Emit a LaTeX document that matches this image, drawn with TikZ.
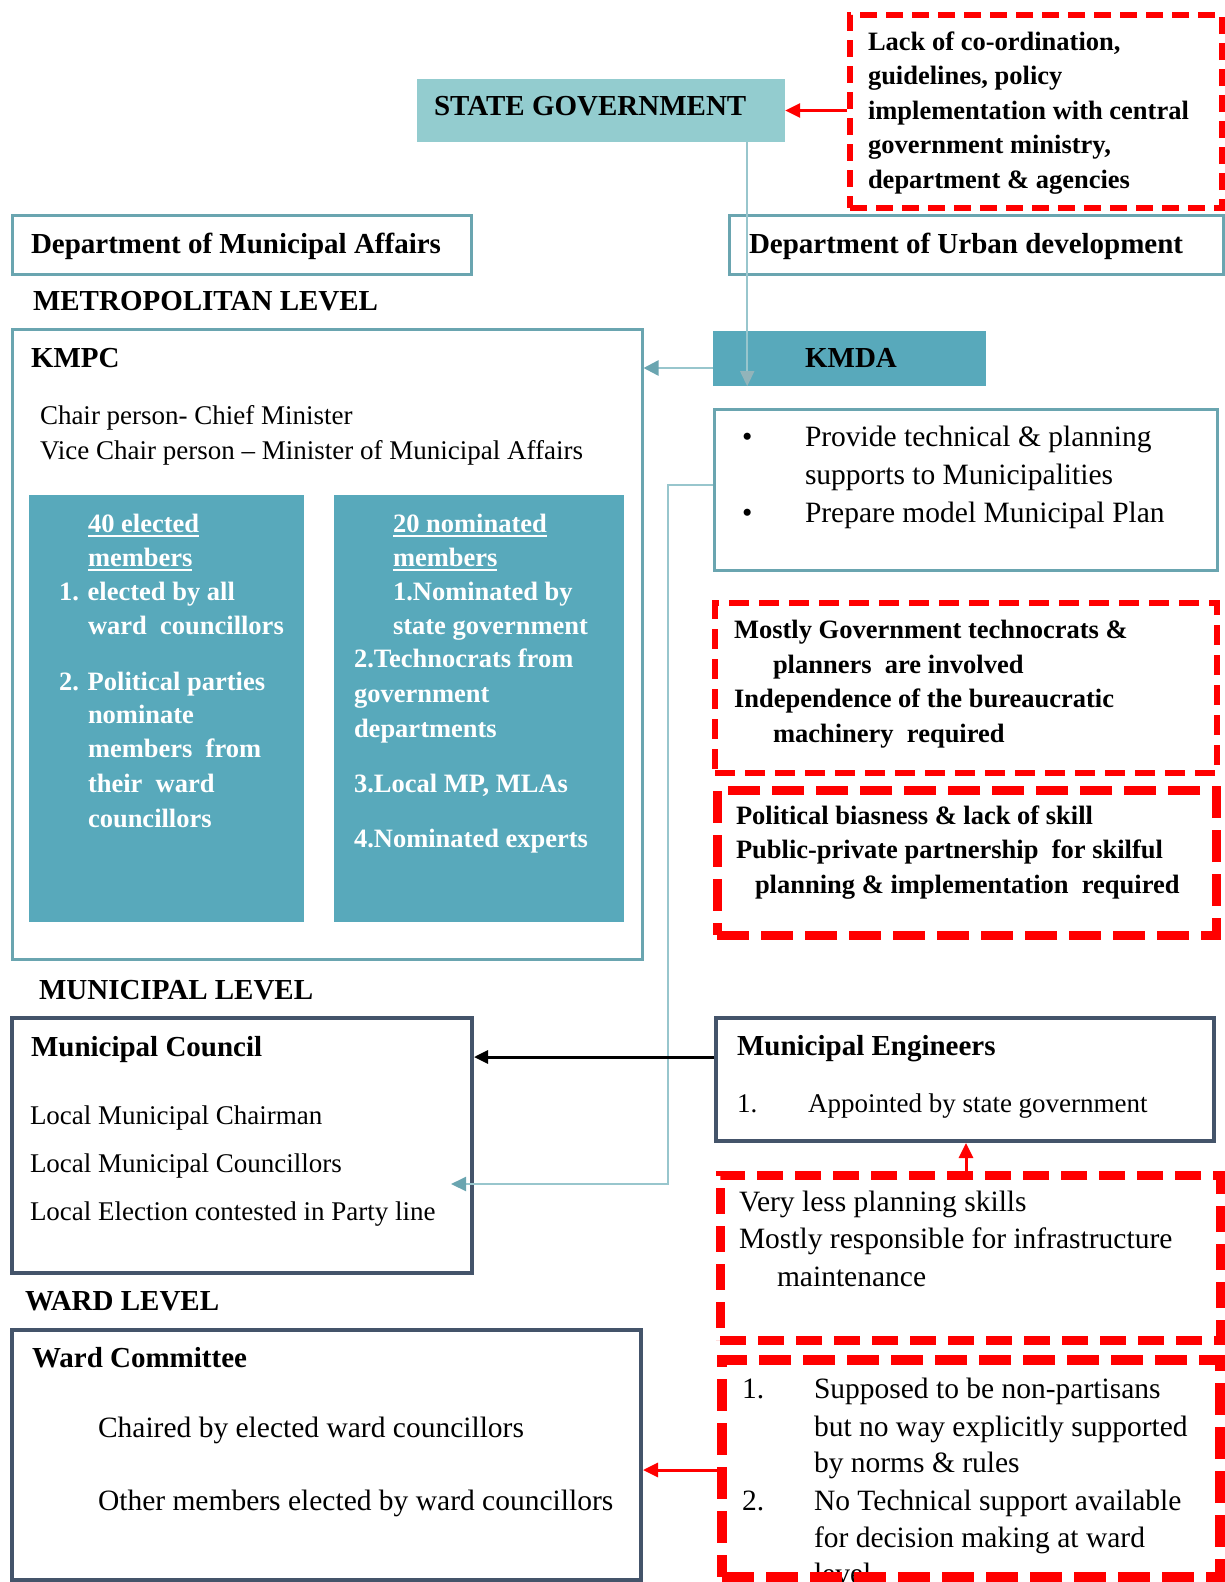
\documentclass[tikz,border=0pt]{standalone}
\usepackage{fontspec}
\setmainfont{Liberation Serif}
\usetikzlibrary{arrows.meta,fit}

\definecolor{tealfill}{HTML}{58A9BB}
\definecolor{paleteal}{HTML}{93CCCF}
\definecolor{tealedge}{HTML}{6AA5B0}
\definecolor{linkteal}{HTML}{98C6CD}
\definecolor{slateedge}{HTML}{44546A}
\definecolor{warnred}{HTML}{FF0000}

\newcommand\hdfont{\fontsize{29}{34}\selectfont\bfseries}
\newcommand\bdfont{\fontsize{26.5}{34}\selectfont\bfseries}
\newcommand\rgfont{\fontsize{27}{34}\selectfont}
\newcommand\rgbig{\fontsize{29.5}{36}\selectfont}
% underline with a rule that scales with the large type
\newcommand\undl[1]{\setbox0\hbox{#1}\rlap{\copy0}\rule[-5pt]{\wd0}{2pt}}

\tikzset{
  txt/.style={anchor=base west, inner sep=0pt, outer sep=0pt},
  hd/.style={txt, font=\hdfont},
  bd/.style={txt, font=\bdfont},
  bdw/.style={txt, font=\bdfont, text=white},
  rg/.style={txt, font=\rgfont},
  rgl/.style={txt, font=\rgbig},
  tealbox/.style={draw=tealedge, line width=3pt, inner sep=0pt},
  slatebox/.style={draw=slateedge, line width=4pt, inner sep=0pt},
  fillbox/.style={fill=tealfill, inner sep=0pt},
  warnbox/.style={draw=warnred, inner sep=0pt},
  redarrow/.style={draw=warnred, line width=3pt, -{Triangle[length=15pt,width=14pt]}},
  blackarrow/.style={draw=black, line width=3pt, -{Triangle[length=14pt,width=13pt]}},
  dropline/.style={draw=linkteal, line width=1.5pt, -{Triangle[length=15pt,width=14pt,color=linkteal!75!gray]}},
  sideline/.style={draw=linkteal, line width=2.5pt, -{Triangle[length=15pt,width=15pt,color=tealedge]}},
  linkline/.style={draw=linkteal, line width=2pt, -{Triangle[length=15pt,width=14pt,color=tealedge]}},
}

\begin{document}
\begin{tikzpicture}[x=1pt,y=-1pt]
\useasboundingbox (0,0) rectangle (1225,1582);

% ---------- state level ----------
\node[fill=paleteal, inner sep=0pt, fit={(417,79) (785,142)}] (sg) {};
\node[hd] (sgt) at (434,115) {STATE GOVERNMENT};

\node[warnbox, line width=5.5pt, dash pattern=on 17pt off 9pt, fit={(850,15) (1222,208)}] (w1) {};
\node[bd] (w1a) at (868,50) {Lack of co-ordination,};
\node[bd] (w1b) at (868,84.5) {guidelines, policy};
\node[bd] (w1c) at (868,119) {implementation with central};
\node[bd] (w1d) at (868,153.5) {government ministry,};
\node[bd] (w1e) at (868,188) {department \& agencies};

\node[tealbox, fit={(12,215) (471,274)}] (dma) {};
\node[hd] (dmat) at (31,253) {Department of Municipal Affairs};
\node[tealbox, fit={(729,215) (1223,274)}] (dud) {};
\node[hd] (dudt) at (749,253) {Department of Urban development};

% ---------- metropolitan level ----------
\node[hd] (metro) at (33,310) {METROPOLITAN LEVEL};

\node[tealbox, fit={(12,329) (642,959)}] (kmpc) {};
\node[hd] (kmpct) at (31,367) {KMPC};
\node[rg] (chair) at (40,424) {Chair person- Chief Minister};
\node[rg] (vice) at (40,459) {Vice Chair person – Minister of Municipal Affairs};

\node[fillbox, fit={(29,495) (304,922)}] (elect) {};
\node[bdw] (e1) at (88,532) {\undl{40 elected}};
\node[bdw] (e2) at (88,566) {\undl{members}};
\node[bdw] (e3) at (59,600) {1. elected by all};
\node[bdw] (e4) at (88,634) {ward \ councillors};
\node[bdw] (e5) at (59,690) {2. Political parties};
\node[bdw] (e6) at (88,723) {nominate};
\node[bdw] (e7) at (88,757) {members \ from};
\node[bdw] (e8) at (88,792) {their \ ward};
\node[bdw] (e9) at (88,827) {councillors};

\node[fillbox, fit={(334,495) (624,922)}] (nomin) {};
\node[bdw] (n1) at (393,532) {\undl{20 nominated}};
\node[bdw] (n2) at (393,566) {\undl{members}};
\node[bdw] (n3) at (393,600) {1.Nominated by};
\node[bdw] (n4) at (393,634) {state government};
\node[bdw] (n5) at (354,667) {2.Technocrats from};
\node[bdw] (n6) at (354,702) {government};
\node[bdw] (n7) at (354,737) {departments};
\node[bdw] (n8) at (354,792) {3.Local MP, MLAs};
\node[bdw] (n9) at (354,847) {4.Nominated experts};

\node[fillbox, fit={(713,331) (986,386)}] (kmda) {};
\node[hd, anchor=base] (kmdat) at (851,367) {KMDA};

\node[tealbox, fit={(714,409) (1217,570)}] (kb) {};
\node[rgl] (kb1) at (742,446) {•};
\node[rgl] (kb2) at (805,446) {Provide technical \& planning};
\node[rgl] (kb3) at (805,484) {supports to Municipalities};
\node[rgl] (kb4) at (742,522) {•};
\node[rgl] (kb5) at (805,522) {Prepare model Municipal Plan};

\node[warnbox, line width=6pt, dash pattern=on 20pt off 10pt, fit={(715,603) (1217,773)}] (w2) {};
\node[bd] (w2a) at (734,638) {Mostly Government technocrats \&};
\node[bd] (w2b) at (773,673) {planners \ are involved};
\node[bd] (w2c) at (734,707) {Independence of the bureaucratic};
\node[bd] (w2d) at (773,742) {machinery \ required};

\node[warnbox, line width=9pt, dash pattern=on 32pt off 12pt, fit={(717,790) (1216,935)}] (w3) {};
\node[bd] (w3a) at (736,824) {Political biasness \& lack of skill};
\node[bd] (w3b) at (736,858) {Public-private partnership \ for skilful};
\node[bd] (w3c) at (755,893) {planning \& implementation \ required};

% ---------- municipal level ----------
\node[hd] (muni) at (39,999) {MUNICIPAL LEVEL};

\node[slatebox, fit={(12,1018) (472,1273)}] (mc) {};
\node[hd] (mct) at (31,1056) {Municipal Council};
\node[rg] (mc1) at (30,1124) {Local Municipal Chairman};
\node[rg] (mc2) at (30,1172) {Local Municipal Councillors};
\node[rg] (mc3) at (30,1220) {Local Election contested in Party line};

\node[slatebox, fit={(716,1018) (1214,1141)}] (me) {};
\node[hd] (met) at (737,1055) {Municipal Engineers};
\node[rg] (me1) at (737,1112) {1.};
\node[rg] (me2) at (808,1112) {Appointed by state government};

\node[warnbox, line width=9pt, dash pattern=on 26pt off 12pt, fit={(720,1175) (1220,1340)}] (w4) {};
\node[rgl] (w4a) at (739,1211) {Very less planning skills};
\node[rgl] (w4b) at (739,1248) {Mostly responsible for infrastructure};
\node[rgl] (w4c) at (777,1286) {maintenance};

% ---------- ward level ----------
\node[hd] (ward) at (25,1310) {WARD LEVEL};

\node[slatebox, fit={(12,1330) (641,1580)}] (wc) {};
\node[hd] (wct) at (32,1367) {Ward Committee};
\node[rgl] (wc1) at (98,1437) {Chaired by elected ward councillors};
\node[rgl] (wc2) at (98,1510) {Other members elected by ward councillors};

\node[rgl] (w5a) at (742,1398) {1.};
\node[rgl] (w5b) at (814,1398) {Supposed to be non-partisans};
\node[rgl] (w5c) at (814,1436) {but no way explicitly supported};
\node[rgl] (w5d) at (814,1472) {by norms \& rules};
\node[rgl] (w5e) at (742,1510) {2.};
\node[rgl] (w5f) at (814,1510) {No Technical support available};
\node[rgl] (w5g) at (814,1547) {for decision making at ward};
\node[rgl] (w5h) at (814,1583) {level};
\node[warnbox, line width=10pt, dash pattern=on 32pt off 12pt, fit={(722,1360) (1220,1577)}] (w5) {};

% ---------- connectors ----------
\draw[redarrow] (w1.west |- sg.east) -- (sg.east);

\coordinate (drop) at ([xshift=-38pt]sg.south east);
\draw[dropline] (drop) -- (drop |- kmda.south);

\draw[sideline] (kmda.west |- 0,368) -- (kmpc.east |- 0,368);

\coordinate (mcin) at (451,1184);
\draw[linkline] (kb.west |- 0,485) -| (mcin -| 668,0) -- (mcin);

\draw[blackarrow] (me.west |- 0,1057) -- (mc.east |- 0,1057);
\draw[redarrow] (w4.north -| 966,0) -- (me.south -| 966,0);
\draw[redarrow] (w5.west |- 0,1470) -- (wc.east |- 0,1470);
\end{tikzpicture}
\end{document}
